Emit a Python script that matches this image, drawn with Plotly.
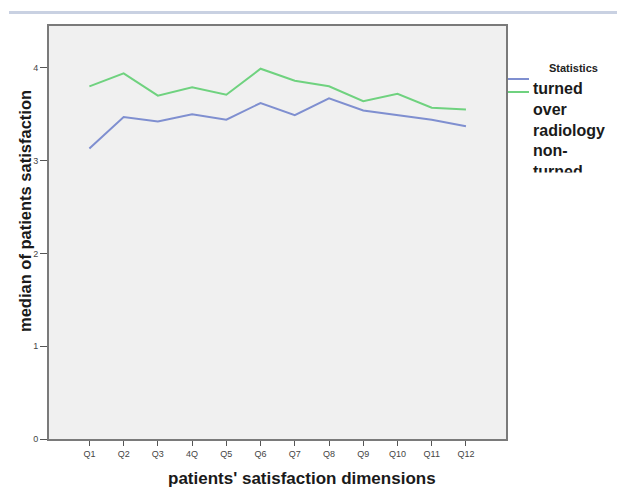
import plotly.graph_objects as go

categories = ["Q1", "Q2", "Q3", "4Q", "Q5", "Q6", "Q7", "Q8", "Q9", "Q10", "Q11", "Q12"]
turned_over = [3.13, 3.47, 3.42, 3.50, 3.44, 3.62, 3.49, 3.67, 3.54, 3.49, 3.44, 3.37]
non_turned = [3.80, 3.94, 3.70, 3.79, 3.71, 3.99, 3.86, 3.80, 3.64, 3.72, 3.57, 3.55]
y_ticks = [0, 1, 2, 3, 4]
series_names = ["turned over radiology", "non-turned"]
series_colors = ["#7f8fd0", "#6fd27f"]
x_title = "patients' satisfaction dimensions"
y_title = "median of patients satisfaction"

OFF = 8  # page body margin
W, H = 625 - OFF, 487 - OFF
L, T = 49 - OFF, 26 - OFF
pw, ph = 457, 413
R, B = W - L - pw, H - T - ph

def px(x):
    return (x - OFF - L) / pw

def py(y):
    return (T + ph - (y - OFF)) / ph

fig = go.Figure()
xi = list(range(len(categories)))
for vals, name, col in zip([turned_over, non_turned], series_names, series_colors):
    fig.add_trace(go.Scatter(x=xi, y=vals, mode="lines", name=name,
                             line=dict(color=col, width=2), showlegend=False))

fig.update_layout(
    width=W, height=H,
    margin=dict(l=L, r=R, t=T, b=B, pad=0, autoexpand=False),
    paper_bgcolor="white", plot_bgcolor="#f0f0f0",
    font=dict(family="Liberation Sans, Arial, sans-serif", color="#333"),
)
fig.update_xaxes(
    automargin=False,
    range=[-1.18, 11 + 1.17], tickmode="array", tickvals=xi, ticktext=categories,
    showgrid=False, zeroline=False, showline=True, mirror=True,
    linecolor="#7a7a7a", linewidth=2, ticks="outside", ticklen=5, tickcolor="#555",
    tickfont=dict(size=9, color="#444"),
)
fig.update_yaxes(
    automargin=False,
    range=[0, 4.45], tickmode="array", tickvals=y_ticks,
    showgrid=False, zeroline=False, showline=True, mirror=True,
    linecolor="#7a7a7a", linewidth=2, ticks="outside", ticklen=7, tickcolor="#555",
    tickfont=dict(size=9, color="#444"),
)

# axis titles (offset from centre as in the reference)
fig.add_annotation(xref="paper", yref="paper", x=px(302), y=py(479),
                   text="<b>" + x_title + "</b>", showarrow=False,
                   xanchor="center", yanchor="middle",
                   font=dict(size=17, color="#1a1a1a"))
fig.add_annotation(xref="paper", yref="paper", x=px(25), y=py(211),
                   text="<b>" + y_title + "</b>", showarrow=False, textangle=-90,
                   xanchor="center", yanchor="middle",
                   font=dict(size=16.5, color="#1a1a1a"))

# top decorative bar
fig.add_shape(type="rect", xref="paper", yref="paper",
              x0=px(9), x1=px(640), y0=py(14), y1=py(11),
              fillcolor="#c9d1e2", line=dict(width=0), layer="above")

# manual legend
fig.add_annotation(xref="paper", yref="paper", x=px(573), y=py(68),
                   text="<b>Statistics</b>", showarrow=False,
                   font=dict(size=11, color="#222"), xanchor="center", yanchor="middle")
for col, yy in zip(series_colors, [79, 92]):
    fig.add_shape(type="line", xref="paper", yref="paper",
                  x0=px(508), x1=px(529), y0=py(yy), y1=py(yy),
                  line=dict(color=col, width=2))
fig.add_annotation(xref="paper", yref="paper", x=px(531), y=py(78),
                   text="<b>turned<br>over<br>radiology<br>non-<br>turned</b>",
                   showarrow=False, align="left", xanchor="left", yanchor="top",
                   font=dict(size=16, color="#1a1a1a"))
# clip the last legend line like the reference
fig.add_annotation(xref="paper", yref="paper", x=px(528), y=py(172),
                   text=" ", showarrow=False, xanchor="left", yanchor="top",
                   width=100, height=30, bgcolor="white")

fig.write_html("out.html")
